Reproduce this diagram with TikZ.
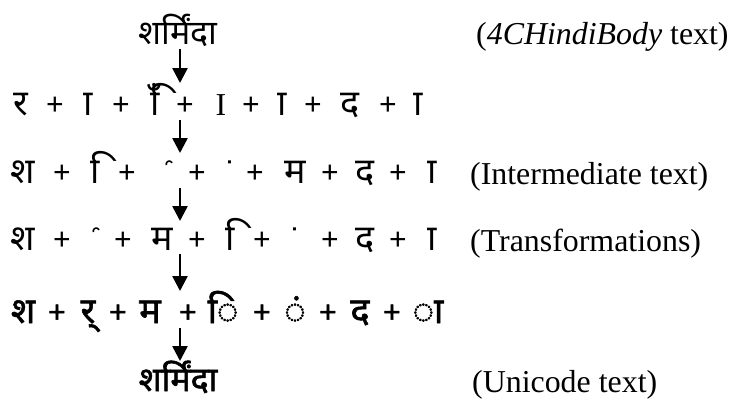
\documentclass[tikz,border=0pt]{standalone}
\usepackage{fontspec}
\setmainfont{Liberation Serif}
\newfontfamily\deva[Script=Devanagari]{Noto Sans}
\newfontfamily\devab[Script=Devanagari, FakeBold=1.6]{Noto Sans}
\newfontfamily\devaraw[Script=Latin]{Noto Sans}
\newfontfamily\devarawb[Script=Latin, FakeBold=1.6]{Noto Sans}
\newfontfamily\djv{DejaVu Sans}
\usetikzlibrary{arrows.meta}
\begin{document}
\begin{tikzpicture}[x=1bp,y=-1bp,
  g/.style={inner sep=0pt, anchor=base, font=\devaraw\fontsize{36}{36}\selectfont},
  gb/.style={inner sep=0pt, anchor=base, font=\devab\fontsize{36}{36}\selectfont},
  pl/.style={inner sep=0pt, anchor=base, font=\devaraw\fontsize{31}{31}\selectfont},
  plb/.style={inner sep=0pt, anchor=base, font=\devarawb\fontsize{31}{31}\selectfont},
  reph/.style={inner sep=0pt, anchor=center, rotate=-70, font=\djv\fontsize{28}{28}\selectfont},
  dotg/.style={inner sep=0pt, anchor=base, font=\djv\fontsize{30}{30}\selectfont},
  word/.style={inner sep=0pt, anchor=base, font=\deva\fontsize{34}{34}\selectfont},
  lab/.style={inner sep=0pt, anchor=base west, font=\fontsize{32}{32}\selectfont},
  arr/.style={line width=2.6bp, -{Triangle[width=15bp,length=15bp]}}]
\useasboundingbox (0,0) rectangle (732,400);

% top and bottom words
\node[word] (w0) at (178,44) {शर्मिंदा};
\node[word, font=\devab\fontsize{34}{34}\selectfont] (w5) at (178,391) {शर्मिंदा};

% labels
\node[lab] (l0) at (476,44) {(\textit{4CHindiBody} text)};
\node[lab] (l2) at (470,184) {(Intermediate text)};
\node[lab] (l3) at (470,251) {(Transformations)};
\node[lab] (l5) at (472,392) {(Unicode text)};

% row 1
\node[g] (r1-1) at (21,115) {र};
\node[g] (r1-2) at (88,115) {ा};
\node[g] (r1-3) at (155,115) {िँ};
\node[g, font=\fontsize{32}{32}\selectfont] (r1-4) at (221,115) {I};
\node[g] (r1-5) at (282,115) {ा};
\node[g] (r1-6) at (350,115) {द};
\node[g] (r1-7) at (418,115) {ा};
\foreach \x [count=\i] in {55,121,185,251,313,388}
  \node[pl] (p1-\i) at (\x,115) {+};

% row 2
\node[g] (r2-1) at (23,183) {श};
\node[g] (r2-2) at (95,183) {ि};
\node[reph] (r2-3) at (163,166) {ʿ};
\node[dotg] (r2-4) at (230,183) {˙};
\node[g] (r2-5) at (295,183) {म};
\node[g] (r2-6) at (365,183) {द};
\node[g] (r2-7) at (432,183) {ा};
\foreach \x [count=\i] in {62,127,197,255,330,398}
  \node[pl] (p2-\i) at (\x,183) {+};

% row 3
\node[g] (r3-1) at (23,250) {श};
\node[reph] (r3-2) at (90,233) {ʿ};
\node[g] (r3-3) at (162,250) {म};
\node[g] (r3-4) at (230,250) {ि};
\node[dotg] (r3-5) at (295,250) {˙};
\node[g] (r3-6) at (365,250) {द};
\node[g] (r3-7) at (432,250) {ा};
\foreach \x [count=\i] in {62,123,197,262,330,398}
  \node[pl] (p3-\i) at (\x,250) {+};

% row 4
\node[gb] (r4-1) at (23,323) {श};
\node[gb] (r4-2) at (88,323) {र्};
\node[gb] (r4-3) at (150,323) {म};
\node[gb] (r4-4) at (223,323) {ि};
\node[gb] (r4-5) at (295,323) {ं};
\node[gb] (r4-6) at (360,323) {द};
\node[gb] (r4-7) at (428,323) {ा};
\foreach \x [count=\i] in {57,118,188,262,328,392}
  \node[plb] (p4-\i) at (\x,323) {+};

% arrows
\coordinate (a1s) at (180,49);  \coordinate (a1e) at (180,83);
\coordinate (a2s) at (180,120); \coordinate (a2e) at (180,153);
\coordinate (a3s) at (180,188); \coordinate (a3e) at (180,221);
\coordinate (a4s) at (180,254); \coordinate (a4e) at (180,291);
\coordinate (a5s) at (180,328); \coordinate (a5e) at (180,361);
\foreach \k in {1,...,5}
  \draw[arr] (a\k s) -- (a\k e);
\end{tikzpicture}
\end{document}
